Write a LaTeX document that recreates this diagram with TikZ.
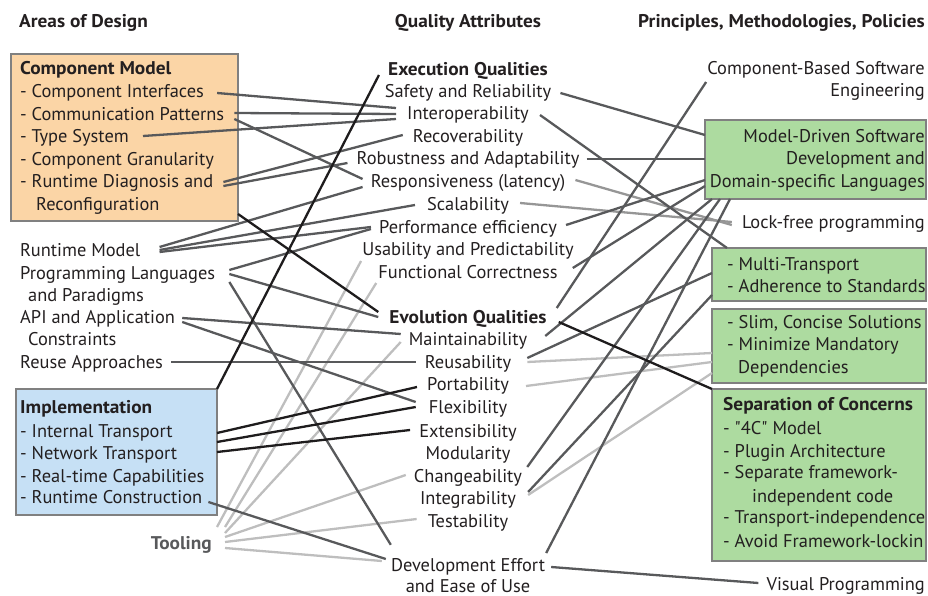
\documentclass[tikz,border=0pt]{standalone}
\usepackage{fontspec}
\setmainfont{PT Sans}[BoldFeatures={FakeStretch=1.05}]
\usetikzlibrary{calc}
\definecolor{txtc}{RGB}{35,31,32}
\definecolor{toolc}{RGB}{88,89,91}
\definecolor{orangef}{RGB}{251,213,166}
\definecolor{bluef}{RGB}{198,224,245}
\definecolor{greenf}{RGB}{173,219,160}
\definecolor{bordc}{RGB}{128,128,128}
\definecolor{darkln}{RGB}{88,89,91}
\definecolor{blackln}{RGB}{30,28,29}
\definecolor{midln}{RGB}{150,150,150}
\definecolor{lightln}{RGB}{190,190,190}
\newcommand{\myfs}{\fontsize{18.4}{21}\selectfont}
\tikzset{
  txt/.style={inner xsep=0pt, inner ysep=0pt, text height=12pt, text depth=4pt, text=txtc, font=\myfs},
  ttl/.style={txt, font=\myfs\bfseries},
  hd/.style={txt, font=\myfs\bfseries},
  bx/.style={draw=bordc, line width=2.5pt, inner sep=0pt, outer sep=0pt, anchor=north west},
  lnD/.style={draw=darkln, line width=2.3pt},
  lnK/.style={draw=blackln, line width=2.3pt},
  lnM/.style={draw=midln, line width=2.3pt},
  lnL/.style={draw=lightln, line width=2.3pt}
}
\begin{document}
\begin{tikzpicture}[x=1pt,y=-1pt]
\useasboundingbox (0,0) rectangle (928,596);
% boxes
\node[bx, fill=orangef, minimum width=227pt, minimum height=167pt] (cmbox) at (11,54) {};
\node[bx, fill=bluef, minimum width=201pt, minimum height=126pt] (impbox) at (16,389) {};
\node[bx, fill=greenf, minimum width=221pt, minimum height=79pt] (mdsd) at (705,120) {};
\node[bx, fill=greenf, minimum width=214pt, minimum height=53pt] (mtbox) at (712,248) {};
\node[bx, fill=greenf, minimum width=214pt, minimum height=74pt] (slbox) at (712,309) {};
\node[bx, fill=greenf, minimum width=214pt, minimum height=172pt] (socbox) at (712,389) {};
% headers
\node[hd, anchor=base west] (h1) at (19,28) {Areas of Design};
\node[hd, anchor=base] (h2) at (468,28) {Quality Attributes};
\node[hd, anchor=base east] (h3) at (925,28) {Principles, Methodologies, Policies};
% left column
\node[ttl, anchor=base west] (cm) at (20,75) {Component Model};
\node[txt, anchor=base west] (ci) at (20,98) {- Component Interfaces};
\node[txt, anchor=base west] (cp) at (20,121) {- Communication Patterns};
\node[txt, anchor=base west] (ts) at (20,143) {- Type System};
\node[txt, anchor=base west] (cg) at (20,166) {- Component Granularity};
\node[txt, anchor=base west] (rd) at (20,188) {- Runtime Diagnosis and};
\node[txt, anchor=base west] (rc) at (36,211) {Reconfiguration};
\node[txt, anchor=base west] (rm) at (20,256) {Runtime Model};
\node[txt, anchor=base west] (pl) at (20,279) {Programming Languages};
\node[txt, anchor=base west] (plb) at (28,301) {and Paradigms};
\node[txt, anchor=base west] (api) at (20,323) {API and Application};
\node[txt, anchor=base west] (apib) at (28,345) {Constraints};
\node[txt, anchor=base west] (ra) at (20,368) {Reuse Approaches};
\node[ttl, anchor=base west] (imp) at (20,413) {Implementation};
\node[txt, anchor=base west] (it) at (20,437) {- Internal Transport};
\node[txt, anchor=base west] (nt) at (20,459) {- Network Transport};
\node[txt, anchor=base west] (rtc) at (20,482) {- Real-time Capabilities};
\node[txt, anchor=base west] (rcon) at (20,503) {- Runtime Construction};
\node[ttl, text=toolc, anchor=base east] (tool) at (212,549) {Tooling};
% middle column
\node[ttl, anchor=base] (eq) at (468,76) {Execution Qualities};
\node[txt, anchor=base] (sr) at (468,98) {Safety and Reliability};
\node[txt, anchor=base] (io) at (468,120) {Interoperability};
\node[txt, anchor=base] (rec) at (468,143) {Recoverability};
\node[txt, anchor=base] (rob) at (468,165) {Robustness and Adaptability};
\node[txt, anchor=base] (resp) at (468,187) {Responsiveness (latency)};
\node[txt, anchor=base] (sca) at (468,210) {Scalability};
\node[txt, anchor=base] (perf) at (468,233) {Performance efficiency};
\node[txt, anchor=base] (usa) at (468,255) {Usability and Predictability};
\node[txt, anchor=base] (fc) at (468,278) {Functional Correctness};
\node[ttl, anchor=base] (evq) at (468,323) {Evolution Qualities};
\node[txt, anchor=base] (mai) at (468,345) {Maintainability};
\node[txt, anchor=base] (reu) at (468,368) {Reusability};
\node[txt, anchor=base] (por) at (468,390) {Portability};
\node[txt, anchor=base] (fle) at (468,413) {Flexibility};
\node[txt, anchor=base] (ext) at (468,437) {Extensibility};
\node[txt, anchor=base] (mod) at (468,459) {Modularity};
\node[txt, anchor=base] (cha) at (468,482) {Changeability};
\node[txt, anchor=base] (intg) at (468,504) {Integrability};
\node[txt, anchor=base] (tes) at (468,527) {Testability};
\node[txt, anchor=base] (dev) at (468,571) {Development Effort};
\node[txt, anchor=base] (devb) at (468,592) {and Ease of Use};
% right column
\node[txt, anchor=base east] (cbse) at (925,75) {Component-Based Software};
\node[txt, anchor=base east] (cbseb) at (925,97) {Engineering};
\node[txt, anchor=base east] (md1) at (925,143) {Model-Driven Software};
\node[txt, anchor=base east] (md2) at (925,165) {Development and};
\node[txt, anchor=base east] (md3) at (925,187) {Domain-specific Languages};
\node[txt, anchor=base east] (lf) at (925,228) {Lock-free programming};
\node[txt, anchor=base west] (mt1) at (727,270) {- Multi-Transport};
\node[txt, anchor=base west] (mt2) at (727,292) {- Adherence to Standards};
\node[txt, anchor=base west] (sl1) at (727,328) {- Slim, Concise Solutions};
\node[txt, anchor=base west] (sl2) at (727,350) {- Minimize Mandatory};
\node[txt, anchor=base west] (sl3) at (738,373) {Dependencies};
\node[ttl, anchor=base west] (soc1) at (723,410) {Separation of Concerns};
\node[txt, anchor=base west] (soc2) at (723,434) {- \textquotedbl 4C\textquotedbl{} Model};
\node[txt, anchor=base west] (soc3) at (723,457) {- Plugin Architecture};
\node[txt, anchor=base west] (soc4) at (723,478) {- Separate framework-};
\node[txt, anchor=base west] (soc5) at (752,502) {independent code};
\node[txt, anchor=base west] (soc6) at (723,523) {- Transport-independence};
\node[txt, anchor=base west] (soc7) at (723,547) {- Avoid Framework-lockin};
\node[txt, anchor=base east] (vp) at (925,590) {Visual Programming};
% light connectors
\draw[lnL] ($(reu.east)+(16,-2)$) -- ($(slbox.south west)+(0,-30)$);
\draw[lnL] ($(por.east)+(17,0)$) -- ($(slbox.south west)+(0,-21)$);
\draw[lnL] ($(intg.east)+(12,-5)$) -- ($(slbox.south west)+(0,-10)$);
\draw[lnL] ($(tool.east)+(5,-18)$) -- ($(usa.west)+(-1,10)$);
\draw[lnL] ($(tool.east)+(13,-18)$) -- ($(fc.west)+(-2,9)$);
\draw[lnL] ($(tool.east)+(13,-12)$) -- ($(mai.west)+(-8,1)$);
\draw[lnL] ($(tool.east)+(13,-8)$) -- ($(cha.west)+(-8,-3)$);
\draw[lnL] ($(tool.east)+(13,-3)$) -- ($(tes.west)+(-11,-4)$);
\draw[lnL] ($(tool.east)+(13,3)$) -- ($(dev.west)+(-9,-6)$);
% mid connectors
\draw[lnM] ($(resp.east)+(10,-3)$) -- ($(lf.west)+(-10,1)$);
\draw[lnM] ($(sca.east)+(11,-3)$) -- ($(lf.west)+(-10,-2)$);
% dark connectors left
\draw[lnD] ($(ci.east)+(13,-1)$) -- ($(io.west)+(-11,-8)$);
\draw[lnD] ($(cp.east)+(10,-4)$) -- ($(io.west)+(-11,-2)$);
\draw[lnD] ($(ts.east)+(14,-3)$) -- ($(io.west)+(-11,3)$);
\draw[lnD] ($(cp.east)+(10,2)$) -- ($(resp.west)+(-8,-4)$);
\draw[lnD] ($(rd.east)+(10,-2)$) -- ($(rec.west)+(-10,-4)$);
\draw[lnD] ($(rd.east)+(10,2)$) -- ($(rob.west)+(-9,2)$);
\draw[lnD] ($(rm.east)+(19,-5)$) -- ($(resp.west)+(-8,4)$);
\draw[lnD] ($(rm.east)+(19,-2)$) -- ($(sca.west)+(-12,-1)$);
\draw[lnD] ($(rm.east)+(19,0)$) -- ($(perf.west)+(-8,-2)$);
\draw[lnD] ($(pl.east)+(14,-5)$) -- ($(perf.west)+(-8,0)$);
\draw[lnD] ($(pl.east)+(14,-1)$) -- ($(evq.west)+(-11,-2)$);
\draw[lnD] ($(pl.east)+(14,7)$) -- ($(dev.north west)+(0,-14)$);
\draw[lnD] ($(api.east)+(7,-1)$) -- ($(mai.west)+(-8,-7)$);
\draw[lnD] ($(api.east)+(7,3)$) -- ($(fle.west)+(-13,-7)$);
\draw[lnD] ($(ra.east)+(8,-2)$) -- ($(reu.west)+(-9,-2)$);
\draw[lnD] ($(rcon.east)+(6,3)$) -- ($(dev.west)+(-5,-8)$);
% dark connectors right
\draw[lnD] ($(sr.east)+(9,-1)$) -- ($(mdsd.north west)+(0,15)$);
\draw[lnD] ($(io.east)+(11,-1)$) -- ($(mtbox.north west)+(15,0)$);
\draw[lnD] ($(rob.east)+(7,-2)$) -- ($(mdsd.north west)+(0,39)$);
\draw[lnD] ($(perf.east)+(9,-4)$) -- ($(mdsd.south west)+(0,-19)$);
\draw[lnD] ($(fc.east)+(15,-6)$) -- ($(mdsd.south west)+(0,-13)$);
\draw[lnD] ($(evq.east)+(10,-11)$) -- ($(cbse.west)+(-1,11)$);
\draw[lnD] ($(mai.east)+(18,-5)$) -- ($(mdsd.south west)+(7,0)$);
\draw[lnD] ($(reu.east)+(16,-6)$) -- ($(mtbox.south west)+(0,-28)$);
\draw[lnD] ($(cha.east)+(5,-11)$) -- ($(mdsd.south west)+(15,0)$);
\draw[lnD] ($(intg.east)+(12,-8)$) -- ($(mtbox.south west)+(0,-6)$);
\draw[lnD] ($(dev.east)+(1,-14)$) -- ($(mdsd.south west)+(25,0)$);
\draw[lnD] ($(dev.east)+(6,0)$) -- ($(vp.west)+(-8,-3)$);
% black connectors
\draw[lnK] ($(cmbox.south east)+(0,-7)$) -- ($(evq.west)+(-11,-7)$);
\draw[lnK] (impbox.north east) -- ($(eq.west)+(-9,3)$);
\draw[lnK] ($(impbox.east)+(0,-19)$) -- ($(por.west)+(-10,1)$);
\draw[lnK] ($(impbox.east)+(0,-10)$) -- ($(fle.west)+(-13,-2)$);
\draw[lnK] (impbox.east) -- ($(ext.west)+(-9,-3)$);
\draw[lnK] ($(evq.east)+(12,3)$) -- (socbox.north west);
\end{tikzpicture}
\end{document}
